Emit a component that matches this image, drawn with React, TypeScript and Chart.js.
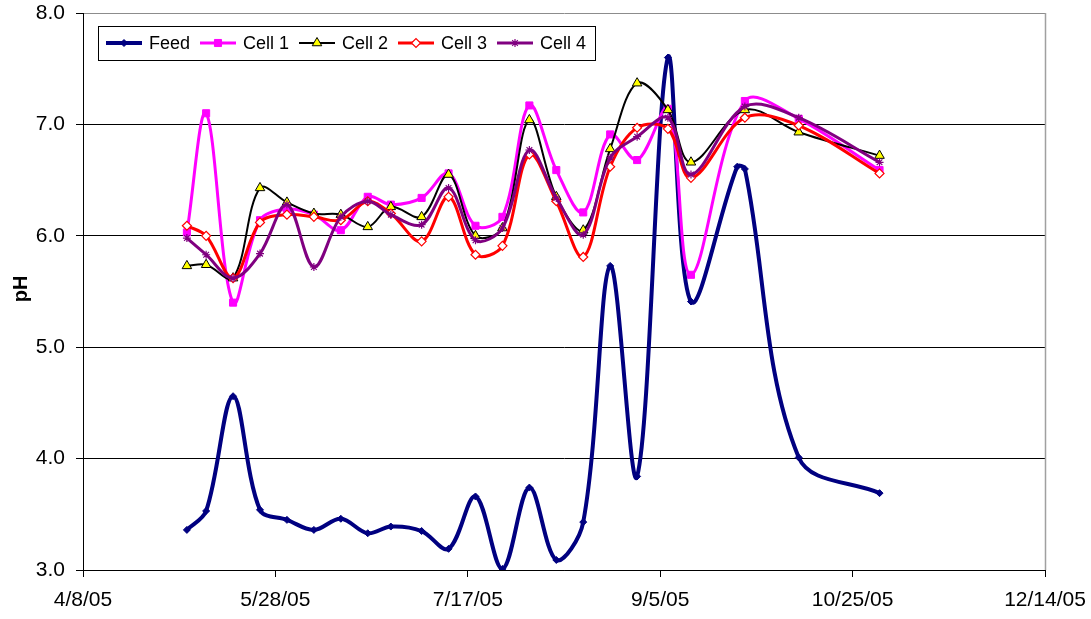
import React, { useEffect, useRef } from 'react';
import { Chart, registerables } from 'chart.js';
import { drawPoint } from 'chart.js/helpers';

Chart.register(...registerables);

// Axis range: 4/8/05 .. 12/14/05, labelled every 50 days
const ORIGIN = '2005-04-08';
const AXIS_DAYS = 250;
const TICK_STEP_DAYS = 50;

// Feed sampling dates and pH
const feedDates = [
  '2005-05-05', '2005-05-10', '2005-05-17', '2005-05-24', '2005-05-31', '2005-06-07',
  '2005-06-14', '2005-06-21', '2005-06-27', '2005-07-05', '2005-07-12', '2005-07-19',
  '2005-07-26', '2005-08-02', '2005-08-09', '2005-08-16', '2005-08-23', '2005-08-30',
  '2005-09-07', '2005-09-13', '2005-09-25', '2005-09-27', '2005-10-11', '2005-11-01',
];
const feedPH = [
  3.36, 3.53, 4.56, 3.54, 3.45, 3.36,
  3.46, 3.33, 3.39, 3.35, 3.19, 3.66,
  3.01, 3.74, 3.09, 3.43, 5.73, 3.84,
  7.60, 5.41, 6.62, 6.60, 4.01, 3.69,
];

// Cell sampling dates and pH
const cellDates = [
  '2005-05-05', '2005-05-10', '2005-05-17', '2005-05-24', '2005-05-31', '2005-06-07',
  '2005-06-14', '2005-06-21', '2005-06-27', '2005-07-05', '2005-07-12', '2005-07-19',
  '2005-07-26', '2005-08-02', '2005-08-09', '2005-08-16', '2005-08-23', '2005-08-30',
  '2005-09-07', '2005-09-13', '2005-09-27', '2005-10-11', '2005-11-01',
];
const cell1PH = [
  6.03, 7.10, 5.40, 6.14, 6.24, 6.19,
  6.05, 6.35, 6.28, 6.34, 6.56, 6.09,
  6.17, 7.17, 6.59, 6.21, 6.91, 6.68,
  7.14, 5.65, 7.21, 7.05, 6.59,
];
const cell2PH = [
  5.73, 5.74, 5.62, 6.43, 6.30, 6.20,
  6.19, 6.08, 6.26, 6.17, 6.55, 6.00,
  6.07, 7.04, 6.35, 6.05, 6.78, 7.37,
  7.13, 6.66, 7.13, 6.93, 6.72,
];
const cell3PH = [
  6.09, 6.00, 5.62, 6.12, 6.19, 6.17,
  6.14, 6.31, 6.20, 5.95, 6.35, 5.83,
  5.91, 6.73, 6.31, 5.81, 6.62, 6.97,
  6.96, 6.52, 7.06, 6.99, 6.56,
];
const cell4PH = [
  5.98, 5.83, 5.62, 5.84, 6.28, 5.72,
  6.17, 6.31, 6.19, 6.10, 6.43, 5.96,
  6.07, 6.77, 6.34, 6.01, 6.70, 6.89,
  7.06, 6.55, 7.16, 7.06, 6.66,
];

const FONT = '"Liberation Sans", Arial, Helvetica, sans-serif';
const DAY_MS = 86400000;

const dayOf = (iso: string) => Math.round((Date.parse(iso) - Date.parse(ORIGIN)) / DAY_MS);
const toPoints = (dates: string[], values: number[]) =>
  dates.map((d, i) => ({ x: dayOf(d), y: values[i] }));

const formatDay = (day: number) => {
  const d = new Date(Date.parse(ORIGIN) + day * DAY_MS);
  return `${d.getUTCMonth() + 1}/${d.getUTCDate()}/${String(d.getUTCFullYear()).slice(2)}`;
};

type Series = {
  label: string;
  color: string;
  lineWidth: number;
  pointStyle: string;
  radius: number;
  fill: string;
  pointBorderWidth: number;
  legendX: number;
};

const seriesStyles: Series[] = [
  { label: 'Feed', color: '#000080', lineWidth: 4, pointStyle: 'rectRot', radius: 3.5, fill: '#000080', pointBorderWidth: 1, legendX: 106 },
  { label: 'Cell 1', color: '#FF00FF', lineWidth: 3, pointStyle: 'rect', radius: 5, fill: '#FF00FF', pointBorderWidth: 1, legendX: 200 },
  { label: 'Cell 2', color: '#000000', lineWidth: 2, pointStyle: 'triangle', radius: 5.5, fill: '#FFFF00', pointBorderWidth: 1, legendX: 299 },
  { label: 'Cell 3', color: '#FF0000', lineWidth: 3, pointStyle: 'rectRot', radius: 4.5, fill: '#FFFFFF', pointBorderWidth: 1.2, legendX: 398 },
  { label: 'Cell 4', color: '#800080', lineWidth: 3, pointStyle: 'star', radius: 4, fill: '#800080', pointBorderWidth: 1.2, legendX: 497 },
];

// Plot frame, legend box and y-axis title
const decorations = {
  id: 'decorations',
  afterDraw(chart: any) {
    const { ctx, chartArea } = chart;
    ctx.save();

    // right edge of the plot frame
    ctx.strokeStyle = '#a0a0a0';
    ctx.lineWidth = 1.5;
    ctx.beginPath();
    ctx.moveTo(chartArea.right + 0.5, chartArea.top);
    ctx.lineTo(chartArea.right + 0.5, chartArea.bottom);
    ctx.stroke();

    // legend
    const boxX = 98.5, boxY = 26.5, boxW = 497, boxH = 34;
    ctx.fillStyle = '#ffffff';
    ctx.fillRect(boxX, boxY, boxW, boxH);
    ctx.strokeStyle = '#000000';
    ctx.lineWidth = 1;
    ctx.strokeRect(boxX, boxY, boxW, boxH);

    const rowY = 43;
    ctx.font = `18px ${FONT}`;
    ctx.textBaseline = 'middle';
    ctx.textAlign = 'left';
    seriesStyles.forEach((s) => {
      const x0 = s.legendX;
      const x1 = x0 + 36;
      ctx.strokeStyle = s.color;
      ctx.lineWidth = s.lineWidth;
      ctx.beginPath();
      ctx.moveTo(x0, rowY);
      ctx.lineTo(x1, rowY);
      ctx.stroke();
      ctx.fillStyle = s.fill;
      ctx.strokeStyle = s.color;
      ctx.lineWidth = s.pointBorderWidth;
      drawPoint(ctx, { pointStyle: s.pointStyle as any, radius: s.radius, rotation: 0, borderWidth: s.pointBorderWidth }, (x0 + x1) / 2, rowY);
      ctx.fillStyle = '#000000';
      ctx.fillText(s.label, x1 + 7, rowY + 1);
    });

    // y-axis title
    ctx.translate(21, 289);
    ctx.rotate(-Math.PI / 2);
    ctx.font = `bold 20px ${FONT}`;
    ctx.textAlign = 'center';
    ctx.textBaseline = 'middle';
    ctx.fillStyle = '#000000';
    ctx.fillText('pH', 0, 0);

    ctx.restore();
  },
};

export default function App() {
  const canvasRef = useRef<HTMLCanvasElement | null>(null);

  useEffect(() => {
    document.body.style.margin = '0';
    const canvas = canvasRef.current;
    if (!canvas) return;

    const values = [feedPH, cell1PH, cell2PH, cell3PH, cell4PH];
    const datasets = seriesStyles.map((s, i) => ({
      label: s.label,
      data: i === 0 ? toPoints(feedDates, values[i]) : toPoints(cellDates, values[i]),
      borderColor: s.color,
      backgroundColor: s.fill,
      borderWidth: s.lineWidth,
      pointStyle: s.pointStyle,
      pointRadius: s.radius,
      pointBackgroundColor: s.fill,
      pointBorderColor: s.color,
      pointBorderWidth: s.pointBorderWidth,
      tension: 0.35,
      fill: false,
      order: seriesStyles.length - i,
    }));

    const chart = new Chart(canvas, {
      type: 'line',
      data: { datasets: datasets as any },
      options: {
        animation: false,
        responsive: false,
        devicePixelRatio: 1,
        layout: { padding: { top: 13, right: 46, left: 0, bottom: 0 } },
        plugins: {
          legend: { display: false },
          tooltip: { enabled: false },
        },
        scales: {
          x: {
            type: 'linear',
            min: 0,
            max: AXIS_DAYS,
            ticks: {
              stepSize: TICK_STEP_DAYS,
              callback: (v: any) => formatDay(Number(v)),
              font: { family: FONT, size: 21 },
              color: '#000000',
              padding: 11,
              maxRotation: 0,
              autoSkip: false,
            },
            grid: {
              drawOnChartArea: false,
              drawTicks: true,
              tickLength: 7,
              color: '#000000',
            },
            border: { color: '#000000', width: 1 },
            afterFit: (scale: any) => {
              scale.height = 49;
              scale.paddingLeft = 0;
              scale.paddingRight = 0;
            },
          },
          y: {
            min: 3,
            max: 8,
            ticks: {
              stepSize: 1,
              callback: (v: any) => Number(v).toFixed(1),
              font: { family: FONT, size: 21 },
              color: '#000000',
              padding: 11,
            },
            grid: {
              color: (c: any) => (c.tick && c.tick.value === 8 ? '#8c8c8c' : '#000000'),
              tickColor: '#000000',
              tickLength: 7,
              lineWidth: 1,
            },
            border: { color: '#000000', width: 1 },
            afterFit: (scale: any) => {
              scale.width = 83;
              scale.paddingTop = 0;
              scale.paddingBottom = 0;
            },
          },
        },
      },
      plugins: [decorations],
    });

    return () => chart.destroy();
  }, []);

  return <canvas ref={canvasRef} width={1091} height={619} style={{ display: 'block' }} />;
}
